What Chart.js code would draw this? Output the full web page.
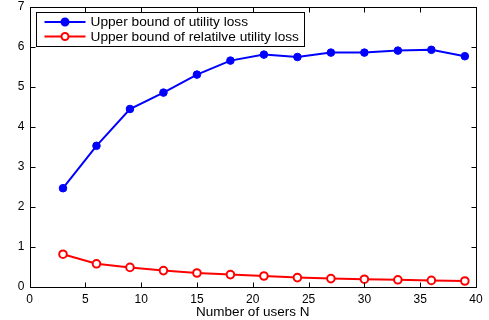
<!DOCTYPE html>
<html>
<head>
<meta charset="utf-8">
<script src="https://cdn.jsdelivr.net/npm/chart.js@4"></script>
<style>
  html, body { margin: 0; padding: 0; background: #fff; }
  #wrap { width: 489px; height: 320px; }
</style>
</head>
<body>
<div id="wrap"><canvas id="lossChart" width="489" height="320"></canvas></div>
<script>
const users = [3, 6, 9, 12, 15, 18, 21, 24, 27, 30, 33, 36, 39];
const utilityLoss = [2.47, 3.53, 4.45, 4.86, 5.31, 5.66, 5.81, 5.75, 5.86, 5.86, 5.91, 5.93, 5.77];
const relativeLoss = [0.82, 0.58, 0.49, 0.41, 0.35, 0.31, 0.275, 0.235, 0.21, 0.195, 0.18, 0.165, 0.15];
const xTicks = [0, 5, 10, 15, 20, 25, 30, 35, 40];
const yTicks = [0, 1, 2, 3, 4, 5, 6, 7];

const font = "Liberation Sans, Arial, Helvetica, sans-serif";

function toPoints(xs, ys) {
  return xs.map((x, i) => ({ x: x, y: ys[i] }));
}

// box round the plot, inward ticks on all four sides, legend inside
const matlabBox = {
  id: "matlabBox",
  afterDraw(chart) {
    const ctx = chart.ctx;
    const xs = chart.scales.x, ys = chart.scales.y;
    const L = Math.round(xs.getPixelForValue(xTicks[0])) + 0.5;
    const R = Math.round(xs.getPixelForValue(xTicks[xTicks.length - 1])) + 0.5;
    const T = Math.round(ys.getPixelForValue(yTicks[yTicks.length - 1])) + 0.5;
    const B = Math.round(ys.getPixelForValue(yTicks[0])) + 0.5;
    const len = 5;
    ctx.save();
    ctx.strokeStyle = "#000";
    ctx.lineWidth = 1;
    ctx.beginPath();
    xTicks.forEach(v => {
      const px = Math.round(xs.getPixelForValue(v)) + 0.5;
      ctx.moveTo(px, B); ctx.lineTo(px, B - len);
      ctx.moveTo(px, T); ctx.lineTo(px, T + len);
    });
    yTicks.forEach(v => {
      const py = Math.round(ys.getPixelForValue(v)) + 0.5;
      ctx.moveTo(L, py); ctx.lineTo(L + len, py);
      ctx.moveTo(R, py); ctx.lineTo(R - len, py);
    });
    ctx.stroke();
    ctx.strokeRect(L, T, R - L, B - T);

    // legend
    const bx = L + 6, by = T + 5;
    const bw = 268, bh = 34;
    ctx.fillStyle = "#fff";
    ctx.fillRect(bx, by, bw, bh);
    ctx.strokeRect(bx, by, bw, bh);
    ctx.font = "13.7px " + font;
    ctx.textBaseline = "middle";
    chart.data.datasets.forEach((ds, i) => {
      const y = by + 9.5 + i * 14.5;
      ctx.strokeStyle = ds.borderColor;
      ctx.lineWidth = 2;
      ctx.beginPath();
      ctx.moveTo(bx + 8, y); ctx.lineTo(bx + 49, y);
      ctx.stroke();
      ctx.beginPath();
      ctx.arc(bx + 28.5, y, 3.5, 0, Math.PI * 2);
      ctx.fillStyle = ds.pointBackgroundColor;
      ctx.fill();
      ctx.stroke();
      ctx.fillStyle = "#000";
      ctx.fillText(ds.label, bx + 54, y + 0.5);
    });
    ctx.restore();
  }
};

new Chart(document.getElementById("lossChart").getContext("2d"), {
  type: "line",
  data: {
    datasets: [
      {
        label: "Upper bound of utility loss",
        data: toPoints(users, utilityLoss),
        borderColor: "#0000ff",
        backgroundColor: "#0000ff",
        pointBackgroundColor: "#0000ff",
        pointBorderColor: "#0000ff",
        borderWidth: 2,
        pointRadius: 3.8,
        pointBorderWidth: 1
      },
      {
        label: "Upper bound of relatilve utility loss",
        data: toPoints(users, relativeLoss),
        borderColor: "#ff0000",
        backgroundColor: "#ff0000",
        pointBackgroundColor: "#ffffff",
        pointBorderColor: "#ff0000",
        borderWidth: 2,
        pointRadius: 3.8,
        pointBorderWidth: 2
      }
    ]
  },
  options: {
    responsive: false,
    animation: false,
    layout: { padding: { top: 7, right: 13, left: 0, bottom: 0 } },
    plugins: {
      legend: { display: false },
      tooltip: { enabled: false }
    },
    scales: {
      x: {
        type: "linear",
        min: 0,
        max: 40,
        afterBuildTicks: s => { s.ticks = xTicks.map(v => ({ value: v })); },
        afterFit: s => { s.height = 33; s.paddingLeft = 0; s.paddingRight = 0; },
        grid: { display: false, drawTicks: false },
        border: { display: false },
        ticks: { color: "#000", font: { family: font, size: 12 }, padding: 5, maxRotation: 0 },
        title: {
          display: true,
          text: "Number of users N",
          color: "#000",
          font: { family: font, size: 13.5 },
          padding: { top: 0, bottom: 0 }
        }
      },
      y: {
        min: 0,
        max: 7,
        afterBuildTicks: s => { s.ticks = yTicks.map(v => ({ value: v })); },
        afterFit: s => { s.width = 29.5; s.paddingTop = 0; s.paddingBottom = 0; },
        grid: { display: false, drawTicks: false },
        border: { display: false },
        ticks: { color: "#000", font: { family: font, size: 12 }, padding: 5 }
      }
    }
  },
  plugins: [matlabBox]
});
</script>
</body>
</html>
